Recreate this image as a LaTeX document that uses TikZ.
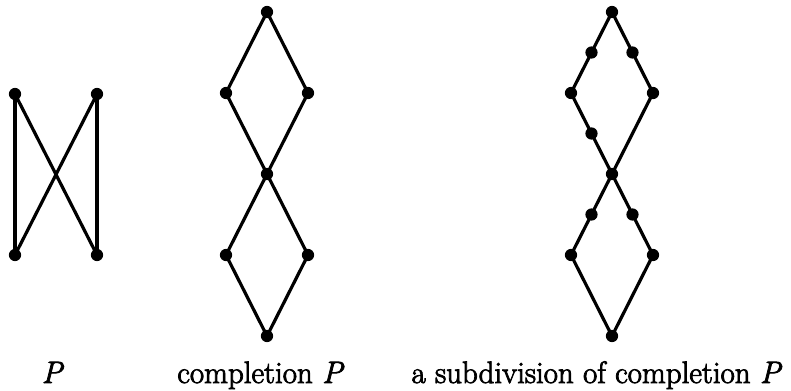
\documentclass[tikz,border=0pt]{standalone}
\usepackage{fontspec}
\newfontfamily\heavy{Latin Modern Roman}[FakeBold=2.6]
\usetikzlibrary{calc}
\begin{document}
\begin{tikzpicture}[x=0.75pt,y=-0.75pt,
  dot/.style={circle,fill=black,inner sep=0pt,minimum width=9.2pt,minimum height=8.4pt},
  edge/.style={line width=2.4pt,line cap=round},
  lbl/.style={anchor=base,inner sep=0pt,font=\heavy\fontsize{23.2}{28}\selectfont}]
\useasboundingbox (0,0) rectangle (791,390);
% graph P
\node[dot] (a1) at (15,94) {};
\node[dot] (a2) at (97,94) {};
\node[dot] (a3) at (15,255) {};
\node[dot] (a4) at (97,255) {};
\draw[edge] (a1.center) -- (a3.center);
\draw[edge] (a2.center) -- (a4.center);
\draw[edge] (a1.center) -- (a4.center);
\draw[edge] (a2.center) -- (a3.center);
% completion P
\node[dot] (b1) at (267,12) {};
\node[dot] (b2) at (226,93) {};
\node[dot] (b3) at (308,93) {};
\node[dot] (b4) at (267,174) {};
\node[dot] (b5) at (226,255) {};
\node[dot] (b6) at (308,255) {};
\node[dot] (b7) at (267,336) {};
\draw[edge] (b1.center) -- (b2.center) -- (b4.center) -- (b5.center) -- (b7.center) -- (b6.center) -- (b4.center) -- (b3.center) -- cycle;
% subdivision
\node[dot] (c1) at (612,12) {};
\node[dot] (c2) at (571,93) {};
\node[dot] (c3) at (653,93) {};
\node[dot] (c4) at (612,174) {};
\node[dot] (c5) at (571,255) {};
\node[dot] (c6) at (653,255) {};
\node[dot] (c7) at (612,336) {};
\draw[edge] (c1.center) -- (c2.center) -- (c4.center) -- (c5.center) -- (c7.center) -- (c6.center) -- (c4.center) -- (c3.center) -- cycle;
\node[dot] (d1) at ($(c1)!0.5!(c2)$) {};
\node[dot] (d2) at ($(c1)!0.5!(c3)$) {};
\node[dot] (d3) at ($(c2)!0.5!(c4)$) {};
\node[dot] (d4) at ($(c4)!0.5!(c5)$) {};
\node[dot] (d5) at ($(c4)!0.5!(c6)$) {};
% labels
\node[lbl] (l1) at (52,383) {\itshape P};
\node[lbl] (l2) at (260,383) {completion {\itshape P}};
\node[lbl] (l3) at (596,383) {a subdivision of completion {\itshape P}};
\end{tikzpicture}
\end{document}
